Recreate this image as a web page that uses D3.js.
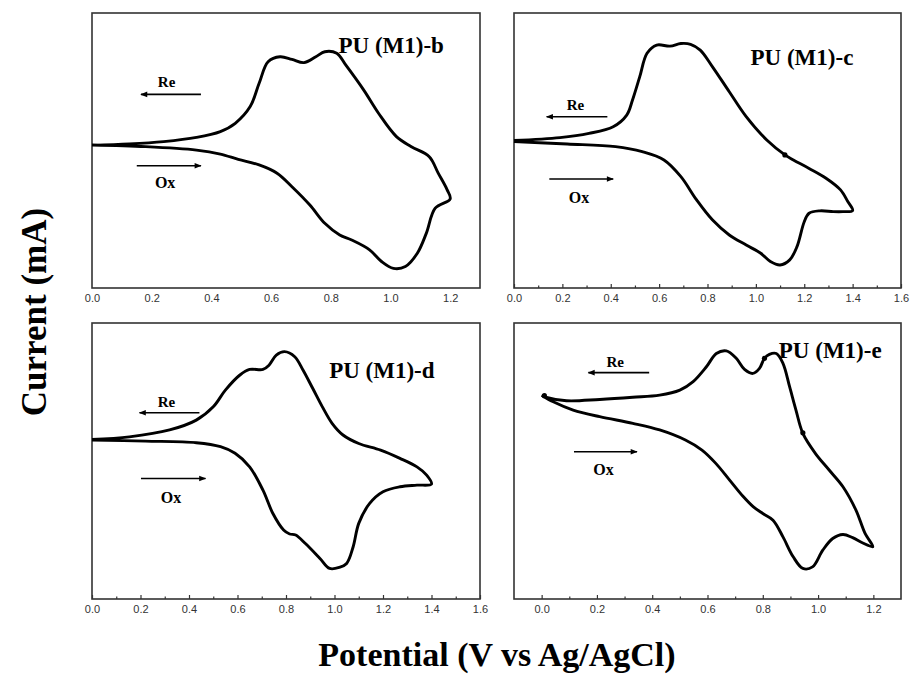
<!DOCTYPE html>
<html><head><meta charset="utf-8">
<script src="https://cdn.jsdelivr.net/npm/d3@7"></script>
<style>body{margin:0;background:#fff}svg{display:block}</style>
</head><body>
<svg id="c" width="913" height="680"></svg>
<script>
// ---------- data ----------
const panelNames = ["PU (M1)-b", "PU (M1)-c", "PU (M1)-d", "PU (M1)-e"];
const xDomains = [[0, 1.3], [0, 1.6], [0, 1.6], [-0.1, 1.3]];
// relative current units (no y scale is printed in the figure)
const yDomains = [[-3.3, 100.4], [-3.3, 100.4], [-3.6, 100.4], [-3.6, 100.4]];
const tickLabelsB = [0.0, 0.2, 0.4, 0.6, 0.8, 1.0, 1.2];
const tickLabelsC = [0.0, 0.2, 0.4, 0.6, 0.8, 1.0, 1.2, 1.4, 1.6];
const tickLabelsD = [0.0, 0.2, 0.4, 0.6, 0.8, 1.0, 1.2, 1.4, 1.6];
const tickLabelsE = [0.0, 0.2, 0.4, 0.6, 0.8, 1.0, 1.2];
const minorTicksC = [0.1, 0.3, 0.5, 0.7, 0.9, 1.1, 1.3, 1.5];
const minorTicksD = [0.1, 0.3, 0.5, 0.7, 0.9, 1.1, 1.3, 1.5];
const minorTicksE = [0.1, 0.3, 0.5, 0.7, 0.9, 1.1];

const bPotential = [0, 0.18, 0.35, 0.43, 0.49, 0.56, 0.62, 0.67, 0.73, 0.78, 0.83, 0.87, 0.93, 0.97, 1.01, 1.05, 1.09, 1.12, 1.15, 1.20,
  1.19, 1.16, 1.13, 1.07, 1.02, 0.96, 0.91, 0.85, 0.82, 0.78, 0.75, 0.71, 0.67, 0.63, 0.59, 0.56, 0.53, 0.48, 0.43, 0.35, 0.24, 0.125, 0];
const bCurrent = [50.6, 50.0, 48.7, 47.2, 45.2, 43.1, 40.0, 34.9, 28.0, 21.1, 16.7, 14.8, 11.1, 6.7, 4.1, 4.8, 9.8, 17.3, 26.8, 30.3,
  33.7, 40.0, 46.2, 50.0, 53.8, 62.6, 71.4, 80.8, 85.2, 85.8, 83.9, 81.7, 82.9, 83.9, 82.0, 73.9, 65.1, 58.8, 55.7, 53.5, 51.9, 51.0, 50.5];

const cPotential = [0, 0.22, 0.42, 0.53, 0.62, 0.69, 0.755, 0.82, 0.89, 0.96, 1.02, 1.06, 1.10, 1.14, 1.17, 1.20, 1.22, 1.265, 1.32, 1.36, 1.40,
  1.38, 1.35, 1.29, 1.22, 1.155, 1.12, 1.045, 0.96, 0.89, 0.82, 0.77, 0.73, 0.69, 0.645, 0.59, 0.55, 0.52, 0.49, 0.466, 0.41, 0.31, 0.19, 0];
const cCurrent = [51.9, 51.0, 50.0, 48.1, 45.0, 38.7, 29.9, 22.4, 16.7, 12.9, 9.8, 6.7, 5.4, 7.3, 12.3, 21.7, 24.9, 25.8, 25.5, 25.5, 25.9,
  29.3, 33.7, 38.1, 41.8, 45.0, 46.9, 52.5, 61.3, 70.7, 80.2, 86.4, 88.6, 88.9, 87.9, 88.3, 85.2, 76.4, 67.6, 61.9, 57.5, 55.0, 53.4, 52.3];

const dPotential = [0, 0.22, 0.43, 0.53, 0.59, 0.65, 0.705, 0.746, 0.79, 0.815, 0.84, 0.88, 0.94, 0.98, 1.02, 1.05, 1.077, 1.10, 1.145, 1.20, 1.27, 1.34, 1.40,
  1.38, 1.34, 1.27, 1.19, 1.10, 1.035, 0.99, 0.95, 0.91, 0.87, 0.836, 0.794, 0.76, 0.73, 0.705, 0.65, 0.61, 0.55, 0.50, 0.43, 0.32, 0.154, 0];
const dCurrent = [56.3, 55.9, 55.3, 53.8, 51.3, 46.2, 37.4, 28.6, 22.4, 20.9, 20.5, 17.3, 11.7, 7.9, 8.3, 9.8, 16.1, 24.9, 32.4, 36.8, 38.7, 39.3, 39.7,
  43.1, 46.2, 49.4, 52.5, 55.0, 58.2, 62.6, 68.8, 75.8, 82.7, 87.7, 89.6, 88.3, 84.5, 82.9, 82.9, 80.8, 75.1, 68.8, 63.8, 60.1, 57.5, 56.5];

const ePotential = [0, 0.042, 0.114, 0.21, 0.33, 0.427, 0.52, 0.58, 0.63, 0.68, 0.73, 0.765, 0.80, 0.837, 0.873, 0.91, 0.945, 0.98, 1.017, 1.053, 1.09, 1.125, 1.16, 1.198,
  1.17, 1.137, 1.09, 1.04, 0.99, 0.945, 0.92, 0.897, 0.873, 0.849, 0.824, 0.806, 0.788, 0.764, 0.734, 0.704, 0.668, 0.632, 0.596, 0.548, 0.50, 0.427, 0.33, 0.21, 0.09, 0.018, 0];
const eCurrent = [73.2, 70.7, 67.6, 65.1, 62.6, 60.1, 56.3, 52.5, 47.5, 41.2, 34.9, 31.2, 28.6, 26.1, 19.8, 12.3, 7.9, 8.5, 14.8, 19.2, 20.7, 19.5, 17.6, 16.1,
  21.1, 29.9, 38.7, 45.0, 51.3, 58.8, 67.6, 76.4, 85.2, 88.9, 88.6, 87.1, 83.3, 81.4, 82.9, 87.1, 89.9, 88.9, 83.9, 78.3, 75.1, 73.2, 72.4, 71.6, 71.1, 72.4, 73.2];

// small blobs on the traces
const cMarkPotential = [1.12];
const cMarkCurrent = [46.9];
const eMarkPotential = [0.01, 0.806, 0.945];
const eMarkCurrent = [73.0, 87.1, 59.0];

// annotation anchors (potential, relative current)
const reArrowFrom = [0.365, 0.386, 0.443, 0.389];
const reArrowTo   = [0.164, 0.135, 0.196, 0.169];
const reArrowY    = [69.7, 61.3, 66.6, 81.7];
const reLabelX    = [0.25, 0.254, 0.307, 0.266];
const reLabelY    = [72.4, 63.8, 68.8, 83.9];
const oxArrowFrom = [0.15, 0.146, 0.202, 0.117];
const oxArrowTo   = [0.365, 0.41, 0.468, 0.345];
const oxArrowY    = [42.8, 37.8, 41.8, 51.9];
const oxLabelX    = [0.245, 0.269, 0.326, 0.224];
const oxLabelY    = [34.3, 28.9, 32.7, 43.3];
const titleX      = [0.826, 0.978, 0.978, 0.858];
const titleY      = [85.2, 80.8, 79.5, 87.1];

// ---------- layout ----------
const frames = [
  {x0: 92, x1: 480, y0: 13, y1: 288},
  {x0: 514, x1: 901, y0: 13, y1: 288},
  {x0: 92, x1: 480, y0: 323, y1: 599},
  {x0: 514, x1: 901, y0: 323, y1: 599}
];
const potentials = [bPotential, cPotential, dPotential, ePotential];
const currents = [bCurrent, cCurrent, dCurrent, eCurrent];
const tickSets = [tickLabelsB, tickLabelsC, tickLabelsD, tickLabelsE];
const minorSets = [[], minorTicksC, minorTicksD, minorTicksE];
const showTicks = [false, true, true, true];
const markSets = [[[], []], [cMarkPotential, cMarkCurrent], [[], []], [eMarkPotential, eMarkCurrent]];

const svg = d3.select("#c");
const serif = "'Liberation Serif','Times New Roman',serif";
const sans = "'Liberation Sans',Arial,sans-serif";

svg.append("defs").append("marker")
  .attr("id", "ah").attr("viewBox", "0 0 10 10").attr("refX", 9).attr("refY", 5)
  .attr("markerWidth", 10).attr("markerHeight", 7).attr("markerUnits", "userSpaceOnUse")
  .attr("orient", "auto")
  .append("path").attr("d", "M0,1 L10,5 L0,9 Z").attr("fill", "#000");

frames.forEach((f, i) => {
  const x = d3.scaleLinear().domain(xDomains[i]).range([f.x0, f.x1]);
  const y = d3.scaleLinear().domain(yDomains[i]).range([f.y1, f.y0]);
  const g = svg.append("g");

  // x axis
  const ax = d3.axisBottom(x).tickValues(tickSets[i]).tickFormat(d3.format(".1f"))
    .tickSizeInner(showTicks[i] ? -4 : 0).tickSizeOuter(0).tickPadding(6);
  const axg = g.append("g").attr("transform", `translate(0,${f.y1})`).call(ax);
  axg.select(".domain").remove();
  axg.selectAll(".tick line").attr("stroke", "#333").attr("stroke-width", 1.2);
  axg.selectAll(".tick text").attr("font-family", sans).attr("font-size", 11).attr("fill", "#333");
  if (showTicks[i]) {
    const mx = d3.axisBottom(x).tickValues(minorSets[i]).tickFormat("").tickSizeInner(-2.5).tickSizeOuter(0);
    const mg = g.append("g").attr("transform", `translate(0,${f.y1})`).call(mx);
    mg.select(".domain").remove();
    mg.selectAll(".tick line").attr("stroke", "#333").attr("stroke-width", 1.2);
  }

  // frame
  g.append("rect").attr("x", f.x0).attr("y", f.y0)
    .attr("width", f.x1 - f.x0).attr("height", f.y1 - f.y0)
    .attr("fill", "none").attr("stroke", "#333").attr("stroke-width", 1.6);

  // curve
  const pts = potentials[i].map((p, k) => [p, currents[i][k]]);
  const line = d3.line().x(d => x(d[0])).y(d => y(d[1])).curve(d3.curveCatmullRom.alpha(0.5));
  g.append("path").attr("d", line(pts)).attr("fill", "none")
    .attr("stroke", "#000").attr("stroke-width", 2.9).attr("stroke-linejoin", "round");

  // blobs
  const ms = markSets[i];
  ms[0].forEach((p, k) => {
    g.append("circle").attr("cx", x(p)).attr("cy", y(ms[1][k])).attr("r", 2.6).attr("fill", "#000");
  });

  // arrows
  g.append("line").attr("x1", x(reArrowFrom[i])).attr("x2", x(reArrowTo[i]))
    .attr("y1", y(reArrowY[i])).attr("y2", y(reArrowY[i]))
    .attr("stroke", "#000").attr("stroke-width", 1.6).attr("marker-end", "url(#ah)");
  g.append("line").attr("x1", x(oxArrowFrom[i])).attr("x2", x(oxArrowTo[i]))
    .attr("y1", y(oxArrowY[i])).attr("y2", y(oxArrowY[i]))
    .attr("stroke", "#000").attr("stroke-width", 1.6).attr("marker-end", "url(#ah)");

  g.append("text").attr("x", x(reLabelX[i])).attr("y", y(reLabelY[i]))
    .attr("text-anchor", "middle").attr("font-family", serif).attr("font-weight", "bold")
    .attr("font-size", 15).text("Re");
  g.append("text").attr("x", x(oxLabelX[i])).attr("y", y(oxLabelY[i]))
    .attr("text-anchor", "middle").attr("font-family", serif).attr("font-weight", "bold")
    .attr("font-size", 16).text("Ox");

  g.append("text").attr("x", x(titleX[i])).attr("y", y(titleY[i]))
    .attr("font-family", serif).attr("font-weight", "bold").attr("font-size", 23)
    .text(panelNames[i]);
});

// axis titles
svg.append("text").attr("x", 497).attr("y", 666).attr("text-anchor", "middle")
  .attr("font-family", serif).attr("font-weight", "bold").attr("font-size", 34)
  .text("Potential (V vs Ag/AgCl)");
svg.append("text").attr("transform", "translate(46,312) rotate(-90)").attr("text-anchor", "middle")
  .attr("font-family", serif).attr("font-weight", "bold").attr("font-size", 35)
  .text("Current (mA)");
</script>
</body></html>
